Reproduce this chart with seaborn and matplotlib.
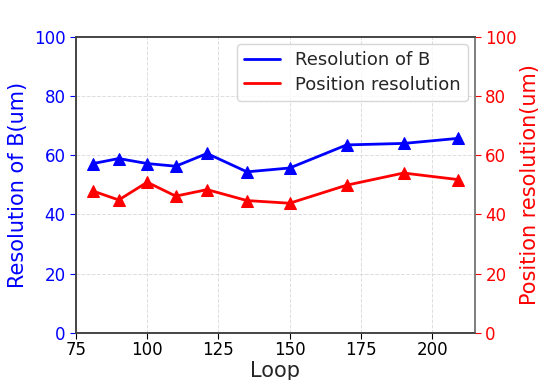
import matplotlib
matplotlib.use("Agg")
import matplotlib.pyplot as plt
from matplotlib.lines import Line2D
import seaborn as sns
import pandas as pd

loop = [81, 90, 100, 110, 121, 135, 150, 170, 190, 209]
resolution_b = [57.2, 58.9, 57.2, 56.3, 60.6, 54.4, 55.7, 63.5, 64.0, 65.7]
position_res = [47.9, 44.9, 50.9, 46.2, 48.4, 44.7, 43.8, 49.9, 54.0, 51.8]

df = pd.DataFrame({"loop": loop, "resB": resolution_b, "pos": position_res})

sns.set_style("white")
plt.rcParams["font.family"] = ["DejaVu Sans"]

fig = plt.figure(figsize=(5.39, 3.80), dpi=100)
ax = fig.add_axes([0.141, 0.124, 0.74, 0.779])
ax2 = ax.twinx()

sns.lineplot(data=df, x="loop", y="resB", ax=ax, color="blue", marker="^",
             markersize=8, markeredgecolor="blue", linewidth=2, legend=False)
sns.lineplot(data=df, x="loop", y="pos", ax=ax2, color="red", marker="^",
             markersize=8, markeredgecolor="red", linewidth=2, legend=False)

ax.set_xlim(75, 215)
ax.set_ylim(0, 100)
ax2.set_ylim(0, 100)
ax.set_xticks([75, 100, 125, 150, 175, 200])
ax.set_yticks([0, 20, 40, 60, 80, 100])
ax2.set_yticks([0, 20, 40, 60, 80, 100])

ax.grid(True, linestyle="--", color="#dddddd", linewidth=0.7)
ax.set_axisbelow(True)

ax.set_xlabel("Loop", fontsize=15, labelpad=1)
ax.set_ylabel("Resolution of B(um)", fontsize=15, color="blue", labelpad=4)
ax2.set_ylabel("Position resolution(um)", fontsize=15, color="red", labelpad=2)

ax.tick_params(axis="x", labelsize=12, length=4, color="black", labelcolor="black",
               direction="out", bottom=True, pad=2)
ax.tick_params(axis="y", labelsize=12, labelcolor="blue", color="blue", length=4, left=True)
ax2.tick_params(axis="y", labelsize=12, labelcolor="red", color="red", length=4, right=True)

for a in (ax, ax2):
    for s in a.spines.values():
        s.set_color("#444444")
        s.set_linewidth(1.2)
ax2.spines["right"].set_color("#888888")

handles = [Line2D([], [], color="blue", linewidth=2), Line2D([], [], color="red", linewidth=2)]
ax2.legend(handles, ["Resolution of B", "Position resolution"], loc="upper right",
           fontsize=13, frameon=True, framealpha=0.8, edgecolor="#cccccc",
           borderaxespad=0.4, labelspacing=0.35)

fig.savefig("out.png", dpi=100)
